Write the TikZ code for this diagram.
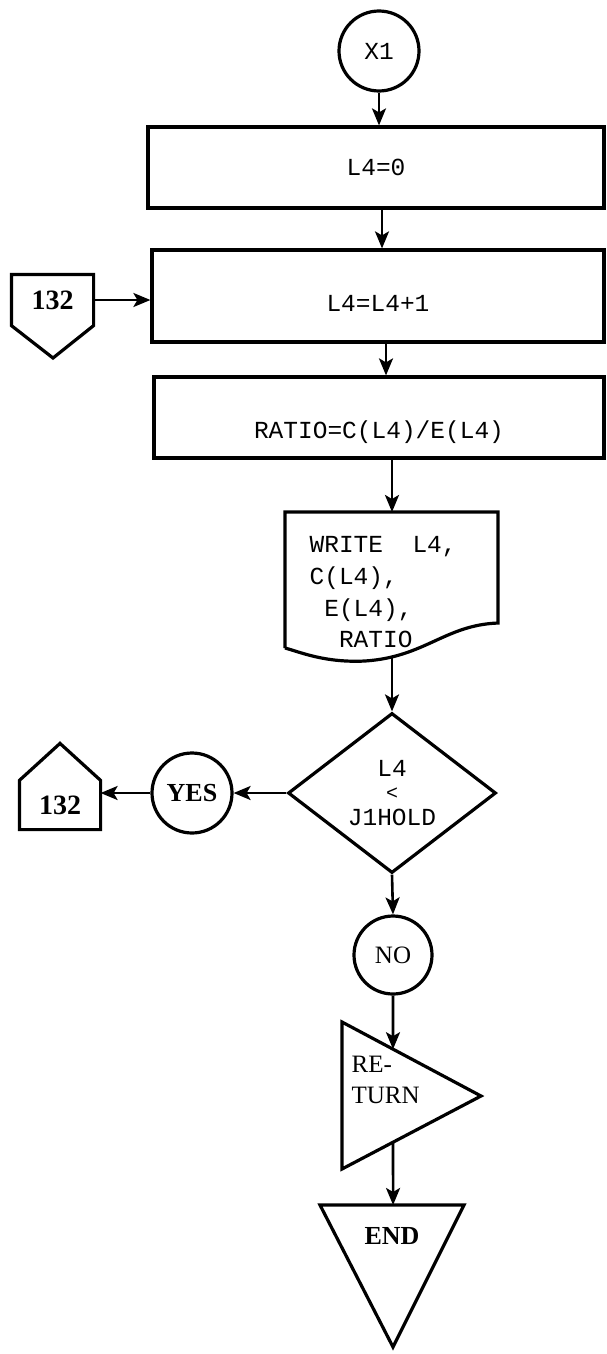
\documentclass[tikz,border=0pt]{standalone}
\usepackage{fontspec}
\setmonofont{Liberation Mono}
\newfontfamily\lblfont{Liberation Serif}
\usetikzlibrary{positioning,arrows.meta,shapes.geometric,calc}
\newcommand{\fcsize}{\fontsize{24.5}{31.7}\selectfont\ttfamily}
\newcommand{\lblsize}[1]{\fontsize{#1}{31}\selectfont\lblfont}

\begin{document}
\begin{tikzpicture}[x=1pt,y=-1pt,line width=3.2pt,
  box/.style={draw,rectangle,minimum height=81pt,inner sep=0pt,font=\fcsize},
  conn/.style={draw,circle,minimum size=80pt,inner sep=0pt},
  offpage/.style={rectangle,minimum width=79pt,minimum height=48pt,inner sep=0pt,font=\lblsize{28}\bfseries},
  flow/.style={-{Stealth[length=17pt,width=14pt,inset=4pt]},line width=2.6pt}]
  \useasboundingbox (0,0) rectangle (606,1354);
  \node[conn,font=\fcsize] (x1) at (379,51) {X1};
  \node[box,minimum width=456pt] (b1) at (376,167.5) {L4=0};
  \node[box,minimum width=452pt,minimum height=92pt,text height=30pt,text depth=0pt] (b2) at (378,296) {L4=L4+1};
  \node[box,minimum width=450pt,text height=41pt,text depth=0pt] (b3) at (379,417.5) {RATIO=C(L4)/E(L4)};
  \node[offpage] (p1) at (52.5,300) {132};
  \draw (p1.south west) -- (p1.north west) -- (p1.north east) -- (p1.south east) -- (53,358) -- cycle;
  % write block
  \coordinate (wtop) at (392,512);
  \coordinate (wbot) at (392,656);
  \draw (285,648) -- (285,512) -- (498,512) -- (498,623)
    .. controls (445,625) and (425,657) .. (365,661)
    .. controls (325,663) and (300,652) .. (285,648);
  \node[anchor=north west,align=left,inner sep=0pt,font=\fcsize] (wr) at (308,535)
    {WRITE\phantom{AA}L4,\\C(L4),\\\phantom{A}E(L4),\\\phantom{AA}RATIO};
  \node[draw,diamond,minimum width=208pt,minimum height=160pt,inner sep=0pt,align=center,font=\fcsize] (dec) at (392,793)
    {L4\\[-8pt]{\fontsize{20}{20}\selectfont<}\\[-6pt]J1HOLD};
  \node[conn,font=\lblsize{26}\bfseries] (yes) at (192,793) {YES};
  \node[offpage,minimum width=78pt,minimum height=46pt] (p2) at (60,805) {132};
  \draw (p2.north west) -- (p2.south west) -- (p2.south east) -- (p2.north east) -- ($(p2.north)+(0,-37)$) -- cycle;
  \node[conn,minimum size=78pt,font=\lblsize{25}] (no) at (393,955) {NO};
  % return and end
  \coordinate (rA) at (342,1022);
  \coordinate (rB) at (342,1169);
  \coordinate (rC) at (481,1096);
  \draw (rA) -- (rB) -- (rC) -- cycle;
  \node[anchor=north west,align=left,inner sep=0pt,font=\lblsize{25}] (ret) at (350,1055) {RE-\\TURN};
  \coordinate (eA) at (320,1205);
  \coordinate (eB) at (464,1205);
  \draw (eA) -- (eB) -- (393,1347) -- cycle;
  \node[font=\lblsize{26}\bfseries] (endn) at (392,1236) {END};
  \draw[flow] (x1) -- (x1.south |- b1.north);
  \draw[flow] (b1.south -| 382,0) -- (b2.north -| 382,0);
  \draw[flow] (b2.south -| 386,0) -- (b3.north -| 386,0);
  \draw[flow] (b3.south -| wtop) -- (wtop);
  \draw[flow] (wbot) -- (dec.north);
  \draw[flow] (p1.east) -- (p1.east -| b2.west);
  \draw[flow] (dec.west) -- (yes.east);
  \draw[flow] (yes.west) -- (yes.west -| p2.east);
  \draw[flow] (dec.south) -- (no.north);
  \draw[flow] (no.south) -- (intersection of no.north--no.south and rA--rC);
  \draw[flow] (intersection of no.north--no.south and rB--rC) -- (intersection of no.north--no.south and eA--eB);
\end{tikzpicture}
\end{document}
